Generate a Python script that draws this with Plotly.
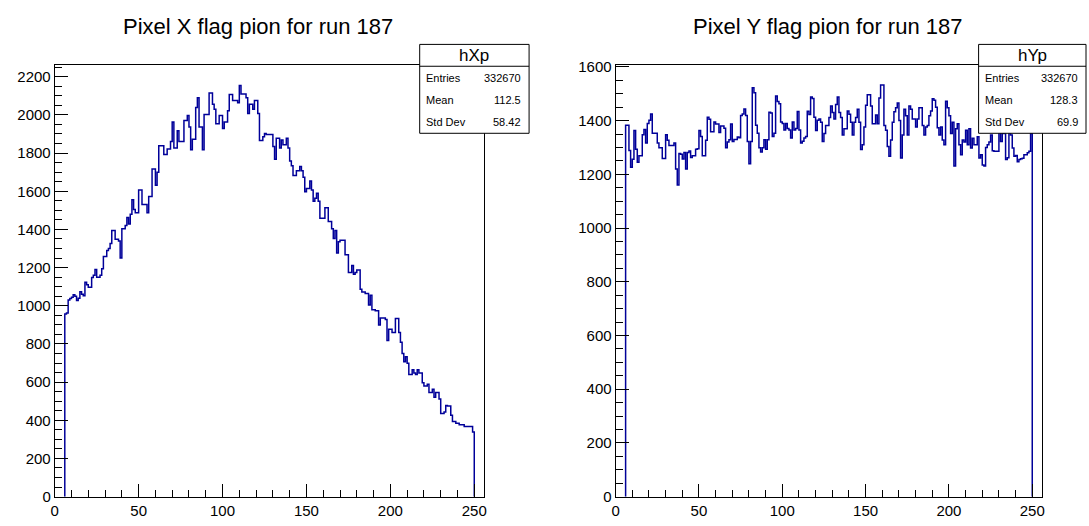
import plotly.graph_objects as go

# ---------------- data ----------------
bin_edges = list(range(6, 251))  # 244 bins of width 1, from 6 to 250

hXp_counts = [
    957, 962, 1030, 1038, 1045, 1058, 1050, 1028, 1040, 1074,
    1060, 1053, 1123, 1110, 1097, 1097, 1148, 1160, 1190, 1150,
    1150, 1160, 1194, 1258, 1258, 1290, 1300, 1326, 1394, 1394,
    1348, 1348, 1340, 1250, 1403, 1403, 1420, 1462, 1428, 1479,
    1556, 1505, 1488, 1488, 1606, 1606, 1530, 1530, 1530, 1488,
    1573, 1573, 1717, 1717, 1632, 1700, 1839, 1839, 1839, 1793,
    1793, 1822, 1822, 1861, 1963, 1827, 1827, 1917, 1861, 1861,
    1861, 1971, 1971, 1997, 1937, 1818, 1873, 1873, 2039, 2090,
    1937, 1937, 1818, 2002, 2002, 2002, 2115, 2115, 2056, 2030,
    1954, 1954, 1997, 1997, 1929, 1963, 1963, 2022, 2107, 2107,
    2076, 2076, 2076, 2064, 2154, 2110, 2110, 2110, 2090, 2008,
    2056, 2056, 2030, 2076, 2076, 2008, 1866, 1866, 1886, 1903,
    1898, 1898, 1898, 1898, 1835, 1768, 1878, 1878, 1827, 1869,
    1844, 1844, 1878, 1827, 1759, 1734, 1683, 1683, 1708, 1708,
    1730, 1708, 1674, 1598, 1615, 1615, 1654, 1606, 1547, 1564,
    1589, 1547, 1459, 1459, 1459, 1513, 1513, 1442, 1442, 1403,
    1352, 1394, 1276, 1335, 1343, 1343, 1343, 1267, 1267, 1174,
    1174, 1211, 1165, 1174, 1187, 1187, 1086, 1072, 1072, 1064,
    1064, 1004, 1055, 979, 979, 974, 974, 899, 936, 936,
    936, 928, 818, 877, 877, 860, 860, 933, 933, 860,
    809, 750, 707, 733, 699, 640, 640, 665, 648, 640,
    665, 648, 648, 597, 580, 580, 589, 546, 546, 563,
    521, 546, 546, 512, 436, 436, 444, 478, 475, 475,
    427, 394, 394, 385, 385, 377, 377, 377, 368, 368,
    368, 368, 368, 339,
]

hYp_counts = [
    1383, 1383, 1289, 1226, 1256, 1363, 1293, 1245, 1269, 1269,
    1347, 1367, 1317, 1389, 1401, 1425, 1353, 1353, 1353, 1317,
    1299, 1299, 1259, 1259, 1347, 1327, 1307, 1307, 1307, 1317,
    1220, 1160, 1278, 1275, 1257, 1281, 1220, 1281, 1287, 1263,
    1269, 1269, 1293, 1295, 1363, 1341, 1269, 1269, 1327, 1413,
    1405, 1359, 1359, 1395, 1387, 1387, 1356, 1380, 1380, 1372,
    1299, 1320, 1329, 1387, 1322, 1330, 1330, 1339, 1336, 1419,
    1425, 1443, 1419, 1322, 1239, 1322, 1522, 1504, 1383, 1353,
    1299, 1283, 1299, 1329, 1293, 1329, 1431, 1428, 1341, 1353,
    1492, 1471, 1463, 1395, 1389, 1365, 1389, 1371, 1365, 1335,
    1395, 1365, 1371, 1434, 1365, 1317, 1323, 1335, 1341, 1435,
    1423, 1488, 1482, 1413, 1363, 1401, 1406, 1394, 1322, 1352,
    1382, 1382, 1412, 1454, 1430, 1406, 1460, 1488, 1430, 1412,
    1346, 1370, 1370, 1436, 1424, 1394, 1346, 1394, 1412, 1442,
    1394, 1292, 1310, 1376, 1457, 1496, 1496, 1454, 1388, 1388,
    1421, 1388, 1484, 1533, 1533, 1382, 1364, 1304, 1267, 1328,
    1394, 1433, 1448, 1466, 1400, 1261, 1346, 1442, 1418, 1346,
    1454, 1442, 1406, 1406, 1376, 1406, 1448, 1448, 1382, 1346,
    1376, 1382, 1418, 1436, 1481, 1476, 1450, 1373, 1346, 1376,
    1328, 1310, 1472, 1448, 1418, 1352, 1394, 1231, 1370, 1388,
    1310, 1273, 1328, 1320, 1364, 1310, 1370, 1298, 1334, 1310,
    1310, 1340, 1261, 1273, 1235, 1231, 1300, 1310, 1320, 1346,
    1288, 1286, 1286, 1286, 1358, 1322, 1352, 1352, 1255, 1262,
    1356, 1346, 1298, 1267, 1270, 1247, 1255, 1258, 1260, 1273,
    1273, 1280, 1286, 1352,
]

titles = ["Pixel X flag pion for run 187", "Pixel Y flag pion for run 187"]
stat_names = ["hXp", "hYp"]
stat_labels = ["Entries", "Mean", "Std Dev"]
stat_values = [["332670", "112.5", "58.42"], ["332670", "128.3", "69.9"]]

# ---------------- layout helpers ----------------
W, H = 1089, 526
FONT = "Liberation Sans, Arial, Helvetica, sans-serif"
LINE_COLOR = "#000099"


def px(x):
    return x / W


def py(y):
    return 1 - y / H


fig = go.Figure()


def step_xy(edges, counts):
    xs = [edges[0]] + list(edges)
    ys = [0] + list(counts) + [0]
    return xs, ys


for i, counts in enumerate([hXp_counts, hYp_counts]):
    xs, ys = step_xy(bin_edges, counts)
    fig.add_trace(go.Scatter(
        x=xs, y=ys, mode="lines", line=dict(color=LINE_COLOR, width=1.5, shape="hv"),
        xaxis="x" if i == 0 else "x2", yaxis="y" if i == 0 else "y2",
        showlegend=False, hoverinfo="skip",
    ))

frame_x = [(51, 483), (615, 1044)]
frame_top, frame_bot = 60, 504
yranges = [[0, 2260], [0, 1606]]

axis_common = dict(
    showgrid=False, zeroline=False, showline=True, linecolor="black", linewidth=1,
    mirror=True, ticks="inside", ticklen=13, tickwidth=1, tickcolor="black",
    tickfont=dict(family=FONT, size=15, color="black"),
)

fig.update_layout(
    width=W, height=H, margin=dict(l=0, r=0, t=0, b=0),
    paper_bgcolor="white", plot_bgcolor="white",
    xaxis=dict(domain=[px(frame_x[0][0]), px(frame_x[0][1])], range=[0, 256], dtick=50, tick0=0,
               minor=dict(dtick=10, ticklen=7, ticks="inside", tickcolor="black"), anchor="y", **axis_common),
    yaxis=dict(domain=[py(frame_bot), py(frame_top)], range=yranges[0], dtick=200, tick0=0,
               minor=dict(dtick=50, ticklen=7, ticks="inside", tickcolor="black"), anchor="x", **axis_common),
    xaxis2=dict(domain=[px(frame_x[1][0]), px(frame_x[1][1])], range=[0, 256], dtick=50, tick0=0,
                minor=dict(dtick=10, ticklen=7, ticks="inside", tickcolor="black"), anchor="y2", **axis_common),
    yaxis2=dict(domain=[py(frame_bot), py(frame_top)], range=yranges[1], dtick=200, tick0=0,
                minor=dict(dtick=50, ticklen=7, ticks="inside", tickcolor="black"), anchor="x2", **axis_common),
)

# titles
title_cx = [255, 828]
for t, cx in zip(titles, title_cx):
    fig.add_annotation(text=t, x=px(cx), y=py(20), xref="paper", yref="paper",
                       showarrow=False, xanchor="center", yanchor="middle",
                       font=dict(family=FONT, size=22, color="black"))

# stats boxes
boxes = [(418, 528), (980, 1088)]
box_top, box_sep, box_bot = 38.5, 61, 130
row_y = [73.5, 96, 118.5]
for k, (bx0, bx1) in enumerate(boxes):
    fig.add_shape(type="rect", xref="paper", yref="paper",
                  x0=px(bx0), x1=px(bx1), y0=py(box_bot), y1=py(box_top),
                  line=dict(color="black", width=1), fillcolor="white", layer="above")
    fig.add_shape(type="line", xref="paper", yref="paper",
                  x0=px(bx0), x1=px(bx1), y0=py(box_sep), y1=py(box_sep),
                  line=dict(color="black", width=1), layer="above")
    fig.add_annotation(text=stat_names[k], x=px((bx0 + bx1) / 2), y=py(50), xref="paper", yref="paper",
                       showarrow=False, xanchor="center", yanchor="middle",
                       font=dict(family=FONT, size=17, color="black"))
    for lab, val, yy in zip(stat_labels, stat_values[k], row_y):
        fig.add_annotation(text=lab, x=px(bx0 + 4), y=py(yy), xref="paper", yref="paper",
                           showarrow=False, xanchor="left", yanchor="middle",
                           font=dict(family=FONT, size=11, color="black"))
        fig.add_annotation(text=val, x=px(bx1 - 6), y=py(yy), xref="paper", yref="paper",
                           showarrow=False, xanchor="right", yanchor="middle",
                           font=dict(family=FONT, size=11, color="black"))

fig.write_html(
    "out.html",
    config={"displayModeBar": False},
    post_script="document.body.style.margin='0px';document.body.style.padding='0px';"
                "document.body.style.overflow='hidden';",
)
